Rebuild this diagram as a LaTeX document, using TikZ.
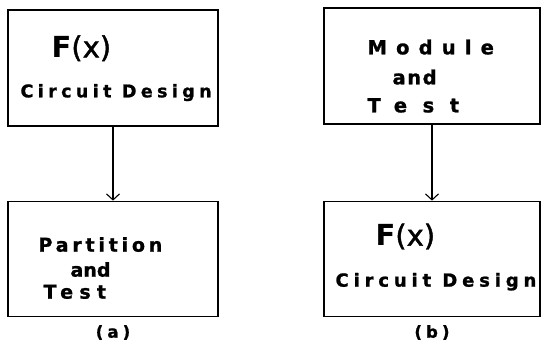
\documentclass[tikz,border=0pt]{standalone}
\usepackage{fontspec}
\setmainfont{DejaVu Sans}
\usepackage{tikz}
\usetikzlibrary{arrows.meta, positioning}

% letter spaced bold text: size, spacing
\newcommand{\wide}[2]{\fontsize{#1}{#1}\bfseries\addfontfeature{LetterSpace=#2, FakeBold=1.2}}

\begin{document}
\begin{tikzpicture}[
    box/.style={rectangle, draw=black, line width=1.3pt, inner sep=0pt},
    txt/.style={inner sep=0pt, anchor=base west},
    line/.style={draw, -{Straight Barb[length=6pt, width=13pt]}, line width=1.1pt}]

    \useasboundingbox (0pt,0pt) rectangle (542pt,-352pt);

    % (a)
    \node [box, minimum width=210pt, minimum height=116pt] (design) at (113pt,-68pt) {};
    \node [box, minimum width=210pt, minimum height=115pt, below=74pt of design] (partition) {};

    \node [txt] (fxa) at ([shift={(44pt,-48pt)}]design.north west)
        {\fontsize{29}{29}\bfseries F\mdseries\addfontfeature{FakeBold=1.5}(x)};
    \node [txt, font=\wide{17.5}{25}] (circa) at ([shift={(13pt,-88pt)}]design.north west) {Circuit Design};

    \node [txt, font=\wide{19}{20}] (parta) at ([shift={(31pt,-51pt)}]partition.north west) {Partition};
    \node [txt, font=\wide{19}{0}] (anda) at ([shift={(63pt,-76pt)}]partition.north west) {and};
    \node [txt, font=\wide{19}{33}] (testa) at ([shift={(36pt,-98pt)}]partition.north west) {Test};

    \path [line] (design) -- (partition);
    \node [inner sep=0pt, font=\wide{16.5}{25}, below=8pt of partition] (capa) {(a)};

    % (b)
    \node [box, minimum width=216pt, minimum height=116pt] (module) at (432pt,-66pt) {};
    \node [box, minimum width=216pt, minimum height=115pt, below=76pt of module] (designb) {};

    \node [txt, font=\wide{19.5}{47}] (modb) at ([shift={(44pt,-47pt)}]module.north west) {Module};
    \node [txt, font=\wide{19.5}{8}] (andb) at ([shift={(69pt,-77pt)}]module.north west) {and};
    \node [txt, font=\wide{19.5}{80}] (testb) at ([shift={(44pt,-105pt)}]module.north west) {Test};

    \node [txt] (fxb) at ([shift={(52pt,-45pt)}]designb.north west)
        {\fontsize{29}{29}\bfseries F\mdseries\addfontfeature{FakeBold=1.5}(x)};
    \node [txt, font=\wide{18}{27}] (circb) at ([shift={(12pt,-86pt)}]designb.north west) {Circuit Design};

    \path [line] (module) -- (designb);
    \node [inner sep=0pt, font=\wide{16.5}{25}, below=8pt of designb] (capb) {(b)};
\end{tikzpicture}
\end{document}
